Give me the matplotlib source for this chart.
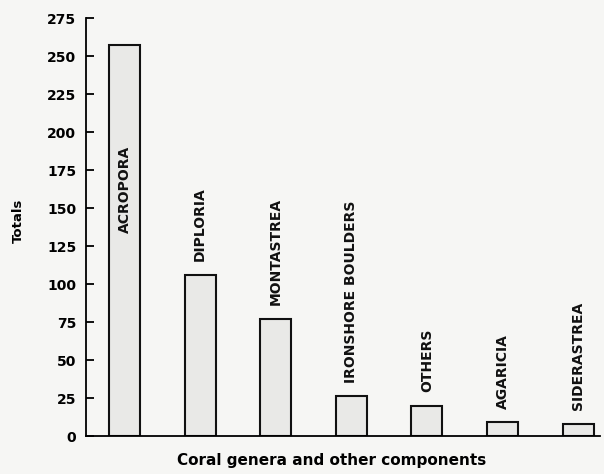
import matplotlib.pyplot as plt
import numpy as np

categories = ['ACROPORA', 'DIPLORIA', 'MONTASTREA', 'IRONSHORE BOULDERS',
              'OTHERS', 'AGARICIA', 'SIDERASTREA']
totals = [257, 106, 77, 26, 20, 9, 8]
y_ticks = [0, 25, 50, 75, 100, 125, 150, 175, 200, 225, 250, 275]

bg = '#f6f6f4'
plt.rcParams['font.family'] = 'DejaVu Sans'

fig = plt.figure(figsize=(6.04, 4.74), dpi=100, facecolor=bg)
ax = fig.add_axes([86 / 604, 1 - 436 / 474, 514 / 604, 418 / 474])
ax.set_facecolor(bg)

x = np.arange(len(categories))
ax.bar(x, totals, width=0.41, color='#e9e9e7', edgecolor='#111111', linewidth=1.5)

# labels: Acropora sits inside its bar, the rest just above
for i, (name, val) in enumerate(zip(categories, totals)):
    if i == 0:
        ax.text(i, 162, name, rotation=90, ha='center', va='center',
                fontsize=10, fontweight='bold', color='#111111')
    else:
        ax.text(i, val + 9, name, rotation=90, ha='center', va='bottom',
                fontsize=10, fontweight='bold', color='#111111')

ax.set_xlim(-0.51, 6.29)
ax.set_ylim(0, 275)
ax.set_yticks(y_ticks)
ax.set_xticks([])
ax.tick_params(axis='y', direction='in', length=6, width=1.3, labelsize=10, pad=7)
for lbl in ax.get_yticklabels():
    lbl.set_fontweight('bold')

for s in ['top', 'right']:
    ax.spines[s].set_visible(False)
ax.spines['left'].set_linewidth(1.3)
ax.spines['bottom'].set_linewidth(1.3)

fig.text(18 / 604, 1 - 221 / 474, 'Totals', rotation=90, ha='center', va='center',
         fontsize=9.5, fontweight='bold')
fig.text(332 / 604, 1 - 461 / 474, 'Coral genera and other components',
         ha='center', va='center', fontsize=11, fontweight='bold')

plt.savefig('out.png', dpi=100, facecolor=bg)
